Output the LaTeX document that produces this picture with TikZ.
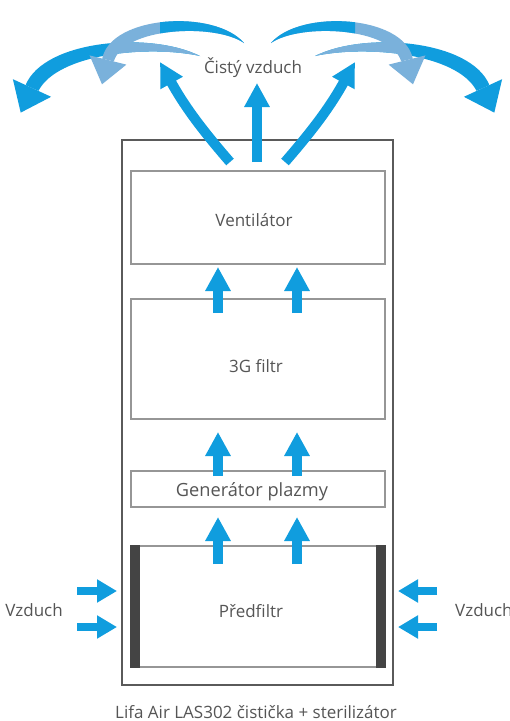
\documentclass[tikz,border=0pt]{standalone}
\usepackage{fontspec}
\setmainfont{Open Sans}
\usetikzlibrary{arrows.meta}
\definecolor{flow}{RGB}{16,157,222}
\definecolor{flowlight}{RGB}{122,177,219}
\definecolor{txtgray}{RGB}{85,85,85}
\definecolor{outergray}{RGB}{90,90,90}
\definecolor{innergray}{RGB}{150,150,150}
\definecolor{bargray}{RGB}{68,68,68}
\tikzset{
  casebox/.style={draw=outergray, line width=2pt},
  partbox/.style={draw=innergray, line width=1.5pt, minimum width=254pt, inner sep=0pt},
  lbl/.style={text=txtgray, font=\fontsize{17}{20}\selectfont, inner sep=0pt},
  upflow/.style={draw=flow, line width=10pt, -{Triangle[width=24pt,length=24pt]}},
  sideflow/.style={draw=flow, line width=8pt, -{Triangle[width=22pt,length=20pt]}},
}
\newcommand\flowarcs{%
  % outer arc (B)
  \path[save path=\svB] (200,56) .. controls (150,31) and (44,40) .. (25.6,85.1)
        -- (38.4,90.9) .. controls (58,53) and (150,45) .. (200,56) -- cycle;
  \fill[flow, use path=\svB];
  \begin{scope}\clip (118,0) rectangle (215,110); \fill[flowlight, use path=\svB]; \end{scope}
  \fill[flow] (12.9,79.2) -- (51.1,96.8) -- (20.7,112.6) -- cycle;
  % inner arc (A)
  \path[save path=\svA] (244,43) .. controls (215,9) and (111,15) .. (102.2,58.6)
        -- (113.8,61.4) .. controls (124,27) and (215,23) .. (244,43) -- cycle;
  \fill[flowlight, use path=\svA];
  \begin{scope}\clip (160,0) rectangle (260,110); \fill[flow, use path=\svA]; \end{scope}
  \fill[flowlight] (89.6,55.4) -- (126.4,64.6) -- (102,84.3) -- cycle;
}
\begin{document}
\begin{tikzpicture}[x=1pt,y=-1pt]
\useasboundingbox (0,0) rectangle (510,721);
\fill[white] (0,0) rectangle (510,721);

% case
\draw[casebox] (122,140) rectangle (393,685);

% parts
\node[partbox, minimum height=93pt] (vent) at (258,217.5) {};
\node[partbox, minimum height=120pt] (filt) at (258,359) {};
\node[partbox, minimum height=36pt] (gen) at (258,489) {};
\node[partbox, minimum height=121pt] (pre) at (258,606.5) {};
\fill[bargray] (pre.north west) rectangle ([xshift=10pt]pre.south west);
\fill[bargray] ([xshift=-10pt]pre.north east) rectangle (pre.south east);

\node[lbl] (tvent) at (254,220) {Ventilátor};
\node[lbl] (tfilt) at (256,366) {3G filtr};
\node[lbl, font=\fontsize{18.2}{21}\selectfont] (tgen) at (252,492) {Generátor plazmy};
\node[lbl] (tpre) at (251,611) {Předfiltr};

% internal flow arrows
\coordinate (a1s) at (218,313); \coordinate (a1e) at (218,267);
\coordinate (b1s) at (297,313); \coordinate (b1e) at (297,267);
\coordinate (a2s) at (218,476); \coordinate (a2e) at (218,432);
\coordinate (b2s) at (297,476); \coordinate (b2e) at (297,432);
\coordinate (a3s) at (218,564); \coordinate (a3e) at (218,517);
\coordinate (b3s) at (297,564); \coordinate (b3e) at (297,517);
\draw[upflow] (a1s) -- (a1e);
\draw[upflow] (b1s) -- (b1e);
\draw[upflow] (a2s) -- (a2e);
\draw[upflow] (b2s) -- (b2e);
\draw[upflow] (a3s) -- (a3e);
\draw[upflow] (b3s) -- (b3e);

% side inflow
\coordinate (l1s) at (77,591); \coordinate (l1e) at (117,591);
\coordinate (l2s) at (77,627); \coordinate (l2e) at (117,627);
\coordinate (r1s) at (437,591); \coordinate (r1e) at (398,591);
\coordinate (r2s) at (437,627); \coordinate (r2e) at (398,627);
\draw[sideflow] (l1s) -- (l1e);
\draw[sideflow] (l2s) -- (l2e);
\draw[sideflow] (r1s) -- (r1e);
\draw[sideflow] (r2s) -- (r2e);
\node[lbl] (vzl) at (34,610) {Vzduch};
\node[lbl, anchor=west] (vzr) at (455,610) {Vzduch};

% top outflow
\coordinate (cs) at (257,162); \coordinate (ce) at (257,83);
\coordinate (ls) at (230,162); \coordinate (le) at (160,62);
\coordinate (rs) at (285,162); \coordinate (re) at (355,62);
\draw[upflow] (cs) -- (ce);
\draw[upflow] (ls) to[bend left=6] (le);
\draw[upflow] (rs) to[bend right=6] (re);

\flowarcs
\begin{scope}[shift={(515,0)}, xscale=-1]
\flowarcs
\end{scope}

\node[lbl] (clean) at (253,68) {Čistý vzduch};
\node[lbl] (cap) at (256,712) {Lifa Air LAS302 čistička + sterilizátor};
\end{tikzpicture}
\end{document}
